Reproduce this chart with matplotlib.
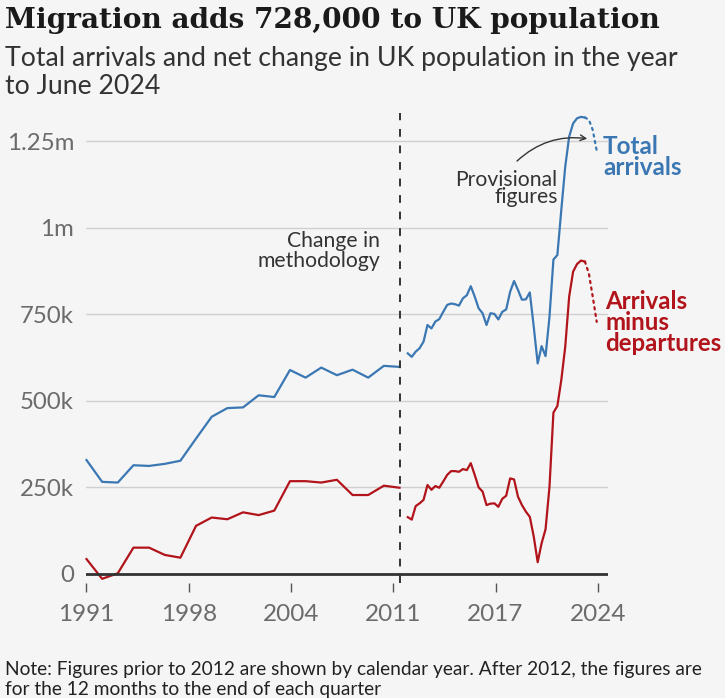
import numpy as np
import matplotlib
matplotlib.use('Agg')
import matplotlib.pyplot as plt

# annual figures, calendar years 1991-2011 (thousands)
years = list(range(1991, 2012))
arrivals_annual = [329, 266, 264, 314, 312, 318, 327, 391, 454, 479, 481,
                   516, 511, 589, 567, 596, 574, 590, 567, 601, 598]
net_annual = [43, -14, 2, 76, 76, 55, 47, 139, 163, 158, 178,
              170, 183, 268, 268, 264, 272, 228, 228, 255, 249]

# rolling 12 months to end of each quarter, Jun 2012 - Jun 2024 (thousands)
arrivals_q = [637, 627, 642, 652, 671, 719, 709, 729, 736, 757,
              777, 781, 779, 775, 796, 805, 831, 801, 767, 753,
              719, 753, 751, 735, 757, 764, 815, 846, 820, 792,
              793, 813, 714, 608, 658, 629, 743, 908, 921, 1051,
              1176, 1263, 1301, 1316, 1320, 1318, 1312, 1282, 1222]
net_q = [164, 157, 196, 204, 214, 257, 243, 254, 249, 267,
         286, 297, 297, 295, 303, 300, 320, 286, 250, 238,
         199, 203, 204, 194, 217, 226, 276, 273, 223, 199,
         180, 165, 108, 34, 89, 129, 252, 466, 485, 560,
         656, 801, 873, 895, 905, 902, 868, 800, 728]
n_provisional = 3  # last quarters drawn dotted

tick_labels = ['1991', '1998', '2004', '2011', '2017', '2024']
ytick_vals = [0, 250, 500, 750, 1000, 1250]
ytick_labels = ['0', '250k', '500k', '750k', '1m', '1.25m']

BLUE = '#3b78b3'
RED = '#b2141b'
BG = '#f5f5f5'
DARK = '#333333'
GREY = '#6b6b6b'

SANS = ['Lato', 'DejaVu Sans']

fig = plt.figure(figsize=(7.25, 6.98), dpi=100, facecolor=BG)
ax = fig.add_axes([0.1193, 0.1648, 0.7193, 0.6732], facecolor=BG)

qx = np.linspace(2011.53, 2023.6, len(arrivals_q))
cut = len(arrivals_q) - n_provisional

for annual, quarterly, col in [(arrivals_annual, arrivals_q, BLUE),
                               (net_annual, net_q, RED)]:
    ax.plot(years, annual, color=col, lw=1.6, solid_joinstyle='round', clip_on=False)
    ax.plot(qx[:cut], quarterly[:cut], color=col, lw=1.6, solid_joinstyle='round')
    ax.plot(qx[cut - 1:], quarterly[cut - 1:], color=col, lw=1.6,
            linestyle=(0, (1.0, 2.0)), dash_capstyle='round')

ax.axvline(2011.0, color=DARK, lw=1.4, linestyle=(0, (4, 4.5)), zorder=3)
ax.axhline(0, color=DARK, lw=2.0, zorder=4)

ax.set_xlim(1991, 2024.32)
ax.set_ylim(-26, 1331)
ax.set_xticks(np.linspace(1991, 2023.67, len(tick_labels)))
ax.set_xticklabels(tick_labels)
ax.set_yticks(ytick_vals)
ax.set_yticklabels(ytick_labels)
ax.yaxis.grid(True, color='#d0d0d0', lw=1.0)
ax.set_axisbelow(True)
for s in ax.spines.values():
    s.set_visible(False)
ax.tick_params(axis='y', length=0, pad=9, labelsize=17.3, labelcolor=GREY)
ax.tick_params(axis='x', length=6.5, width=1.0, color='#555555', pad=8.5,
               labelsize=17.5, labelcolor=GREY)
for lab in ax.get_xticklabels() + ax.get_yticklabels():
    lab.set_family(SANS)

# line labels
ax.text(2024.0, 1204, 'Total\narrivals', color=BLUE, fontsize=17.5,
        fontweight='bold', family=SANS, ha='left', va='center', linespacing=0.9)
ax.text(2024.14, 727, 'Arrivals\nminus\ndepartures', color=RED, fontsize=17.3,
        fontweight='bold', family=SANS, ha='left', va='center', linespacing=0.9)

ax.text(2021.1, 1113, 'Provisional\nfigures', color=DARK, fontsize=15.2,
        family=SANS, ha='right', va='center', multialignment='right', linespacing=0.86)
ax.annotate('', xy=(2023.17, 1256), xytext=(2018.38, 1187),
            arrowprops=dict(arrowstyle='->', color=DARK, lw=1.0,
                            connectionstyle='arc3,rad=-0.25'))
ax.text(2009.75, 932, 'Change in\nmethodology', color=DARK, fontsize=15.2,
        family=SANS, ha='right', va='center', multialignment='right', linespacing=1.0)

# titles and note
fig.text(0.007, 0.9595, 'Migration adds 728,000 to UK population',
         fontsize=20.2, fontweight='bold', family=['DejaVu Serif'], color='#1a1a1a',
         va='baseline')
fig.text(0.007, 0.9059, 'Total arrivals and net change in UK population in the year',
         fontsize=19.2, family=SANS, color=DARK, va='baseline')
fig.text(0.007, 0.8649, 'to June 2024', fontsize=19.2, family=SANS, color=DARK, va='baseline')
fig.text(0.007, 0.0330, 'Note: Figures prior to 2012 are shown by calendar year. '
         'After 2012, the figures are', fontsize=13.8, family=SANS, color='#222222',
         va='baseline')
fig.text(0.007, 0.0043, 'for the 12 months to the end of each quarter',
         fontsize=13.8, family=SANS, color='#222222', va='baseline')

fig.savefig('out.png', dpi=100, facecolor=BG)
